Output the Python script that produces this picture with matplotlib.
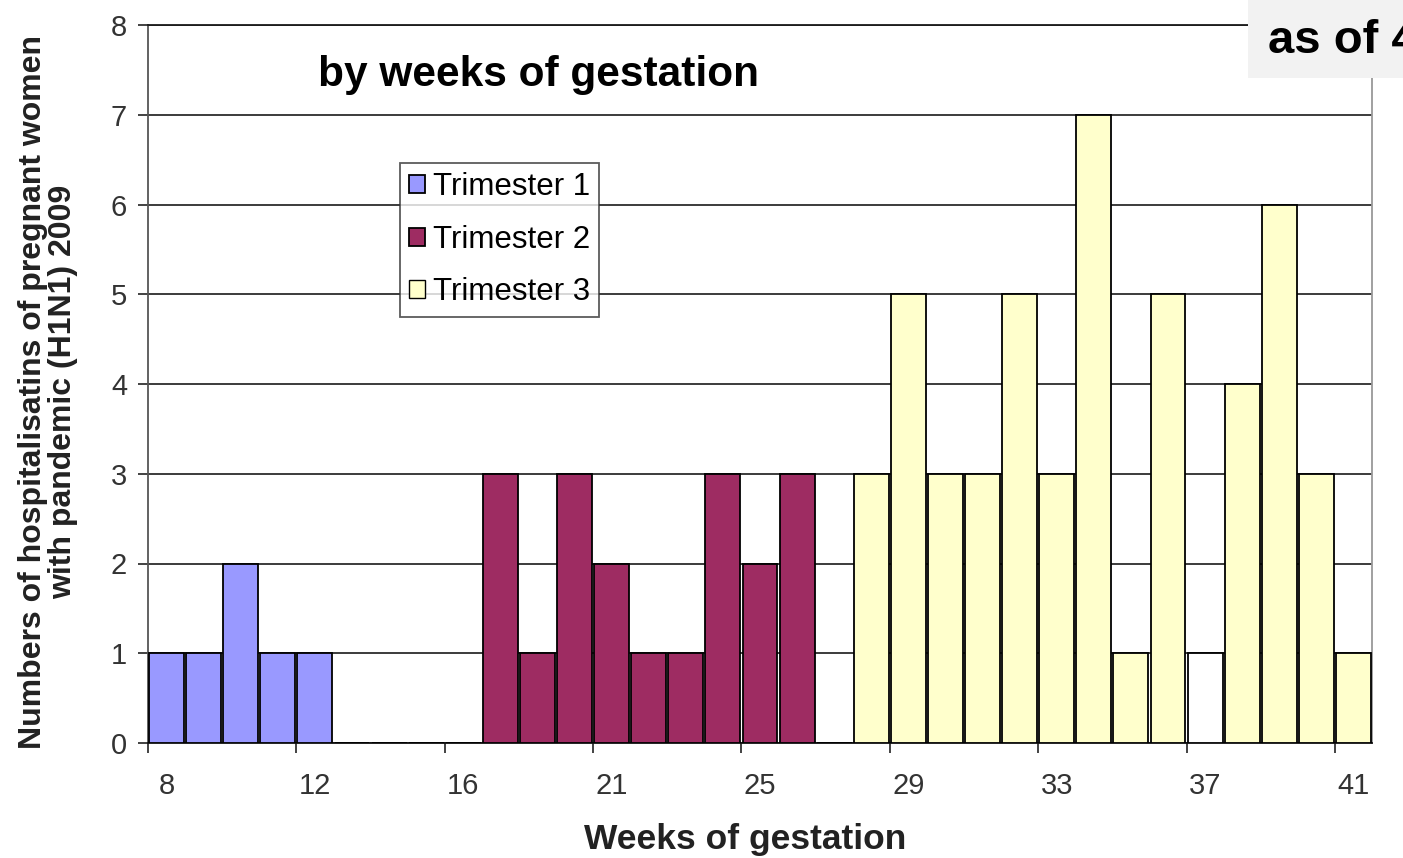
import matplotlib
matplotlib.use("Agg")
import matplotlib.pyplot as plt
from matplotlib.patches import Rectangle

# Daten: Hospitalisierungen je Schwangerschaftswoche
t1_weeks = [8, 9, 10, 11, 12, 13, 14, 15, 16]
t1_counts = [1, 1, 2, 1, 1, 0, 0, 0, 0]
t2_weeks = [18, 19, 20, 21, 22, 23, 24, 25, 26, 27]
t2_counts = [3, 1, 3, 2, 1, 1, 3, 2, 3, 0]
t3_weeks = [28, 29, 30, 31, 32, 33, 34, 35, 36, 37, 38, 39, 40, 41]
t3_counts = [3, 5, 3, 3, 5, 3, 7, 1, 5, 1, 4, 6, 3, 1]
series_names = ["Trimester 1", "Trimester 2", "Trimester 3"]
tick_weeks = [8, 12, 16, 21, 25, 29, 33, 37, 41]

categories = t1_weeks + t2_weeks + t3_weeks
pos = {w: i for i, w in enumerate(categories)}

plt.rcParams["font.family"] = ["Liberation Sans", "DejaVu Sans"]

fig = plt.figure(figsize=(14.03, 8.58), dpi=100)
ax = fig.add_axes([148 / 1403, 1 - 743 / 858, (1372 - 148) / 1403, (743 - 25) / 858])

c_blue = "#9999FF"
c_red = "#9E2C62"
c_yel = "#FFFFCC"
bar_kw = dict(width=0.94, edgecolor="black", linewidth=1.3, zorder=3)

ax.bar([pos[w] for w in t1_weeks], t1_counts, color=c_blue, label=series_names[0], **bar_kw)
ax.bar([pos[w] for w in t2_weeks], t2_counts, color=c_red, label=series_names[1], **bar_kw)
# Woche 37 ist im Original weiss gefuellt
colors3 = ["white" if w == 37 else c_yel for w in t3_weeks]
ax.bar([pos[w] for w in t3_weeks], t3_counts, color=colors3, **bar_kw)
ax.bar([0], [0], color=c_yel, edgecolor="black", label=series_names[2])

ax.set_xlim(-0.5, len(categories) - 0.5)
ax.set_ylim(0, 8)
ax.set_yticks(range(0, 9))
ax.yaxis.grid(True, color="#1a1a1a", linewidth=1.2, zorder=1)
ax.set_axisbelow(True)

# Striche an den Kategoriegrenzen, Beschriftung in der Kategoriemitte
ax.set_xticks([pos[w] - 0.5 for w in tick_weeks])
ax.set_xticklabels([])
ax.set_xticks([pos[w] for w in tick_weeks], minor=True)
ax.set_xticklabels([str(w) for w in tick_weeks], minor=True)
ax.tick_params(axis="x", which="major", length=7, width=1.2, color="#222222")
ax.tick_params(axis="x", which="minor", length=0, pad=21, labelsize=21, labelcolor="#333333")
ax.tick_params(axis="y", length=7, width=1.2, color="#222222", pad=8, labelsize=21,
               labelcolor="#333333")

ax.spines["top"].set_color("#1a1a1a")
ax.spines["right"].set_color("#999999")
ax.spines["left"].set_color("#555555")
ax.spines["bottom"].set_color("#111111")
for s in ax.spines.values():
    s.set_linewidth(1.3)

leg = ax.legend(loc="upper left", bbox_to_anchor=((400 - 148) / 1224, (743 - 163) / 718),
                borderaxespad=0, fontsize=22.5, frameon=True, fancybox=False,
                edgecolor="#333333", handlelength=0.5, handleheight=0.5,
                handletextpad=0.25, labelspacing=0.72, borderpad=0.3)
leg.get_frame().set_linewidth(1.3)
leg.set_zorder(5)

fig.text(318 / 1403, 1 - 75 / 858, "by weeks of gestation", fontsize=30.5,
         fontweight="bold", ha="left", va="center")

fig.add_artist(Rectangle((1248 / 1403, 1 - 78 / 858), 1 - 1248 / 1403, 78 / 858,
                         transform=fig.transFigure, facecolor="#F2F2F2",
                         edgecolor="none", zorder=10))
fig.text(1268 / 1403, 1 - 53 / 858, "as of 4", fontsize=34, fontweight="bold",
         ha="left", va="baseline", zorder=11)

fig.text(48 / 1403, 1 - 392 / 858,
         "Numbers of hospitalisatins of pregnant women\nwith pandemic (H1N1) 2009",
         rotation=90, fontsize=23, fontweight="bold", ha="center", va="center",
         multialignment="center", linespacing=1.0, color="#222222")
fig.text(745 / 1403, 1 - 840 / 858, "Weeks of gestation", fontsize=25.5,
         fontweight="bold", ha="center", va="center", color="#222222")

fig.savefig("out.png", dpi=100)
